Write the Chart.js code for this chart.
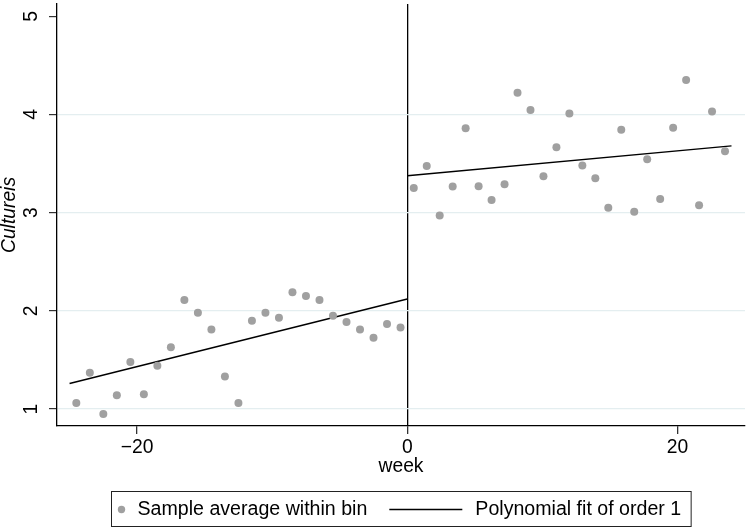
<!DOCTYPE html>
<html>
<head>
<meta charset="utf-8">
<script src="https://cdn.jsdelivr.net/npm/chart.js@4.4.1/dist/chart.umd.min.js"></script>
<style>
html, body { margin: 0; padding: 0; background: #fff; }
</style>
</head>
<body>
<canvas id="rdChart" width="750" height="528"></canvas>
<script>
// bin averages, before and after week 0
const weeksBefore = [-24.5, -23.5, -22.5, -21.5, -20.5, -19.5, -18.5, -17.5, -16.5, -15.5, -14.5, -13.5, -12.5,
    -11.5, -10.5, -9.5, -8.5, -7.5, -6.5, -5.5, -4.5, -3.5, -2.5, -1.5, -0.5];
const averagesBefore = [1.06, 1.37, 0.95, 1.14, 1.48, 1.15, 1.44, 1.63, 2.11, 1.98, 1.81, 1.33, 1.06,
    1.90, 1.98, 1.93, 2.19, 2.15, 2.11, 1.95, 1.885, 1.81, 1.725, 1.865, 1.83];

const weeksAfter = [0.48, 1.44, 2.4, 3.36, 4.32, 5.28, 6.24, 7.2, 8.16, 9.12, 10.08, 11.04, 12.0,
    12.96, 13.92, 14.88, 15.84, 16.8, 17.76, 18.72, 19.68, 20.64, 21.6, 22.56, 23.52];
const averagesAfter = [3.25, 3.475, 2.97, 3.265, 3.86, 3.27, 3.13, 3.29, 4.22, 4.045, 3.37, 3.665, 4.01,
    3.48, 3.35, 3.05, 3.845, 3.01, 3.545, 3.14, 3.865, 4.35, 3.075, 4.03, 3.625];

// linear fit end points
const fitBeforeWeeks = [-25, 0];
const fitBeforeValues = [1.26, 2.12];
const fitAfterWeeks = [0, 24];
const fitAfterValues = [3.375, 3.68];

const xTicks = [-20, 0, 20];
const yTicks = [1, 2, 3, 4, 5];
const legendLabels = ["Sample average within bin", "Polynomial fit of order 1"];

const fontFamily = '"Liberation Sans", Arial, Helvetica, sans-serif';
const dotColor = "#a0a0a0";
const gridColor = "#e4eef0";

function toPoints(xs, ys) {
    return xs.map((x, i) => ({ x: x, y: ys[i] }));
}

// stata style legend in a box under the plot
const boxedLegend = {
    id: "boxedLegend",
    afterDraw(chart) {
        const ctx = chart.ctx;
        const area = chart.chartArea;
        ctx.save();
        ctx.font = "19.6px " + fontFamily;
        const w1 = ctx.measureText(legendLabels[0]).width;
        const w2 = ctx.measureText(legendLabels[1]).width;
        const total = 26 + w1 + 22 + 73 + 13 + w2 + 10;
        const left = Math.round((area.left + area.right) / 2 - total / 2) + 0.5;
        const top = chart.height - 36.5;
        const mid = top + 18;

        ctx.strokeStyle = "#222";
        ctx.lineWidth = 1;
        ctx.strokeRect(left, top, total, 35);

        ctx.fillStyle = dotColor;
        ctx.beginPath();
        ctx.arc(left + 10, mid, 3.7, 0, Math.PI * 2);
        ctx.fill();

        ctx.fillStyle = "#000";
        ctx.textBaseline = "middle";
        ctx.textAlign = "left";
        ctx.fillText(legendLabels[0], left + 26, mid);

        const lineStart = left + 26 + w1 + 22;
        ctx.strokeStyle = "#000";
        ctx.lineWidth = 1.4;
        ctx.beginPath();
        ctx.moveTo(lineStart, mid);
        ctx.lineTo(lineStart + 73, mid);
        ctx.stroke();

        ctx.fillText(legendLabels[1], lineStart + 73 + 13, mid);
        ctx.restore();
    }
};

new Chart(document.getElementById("rdChart"), {
    type: "scatter",
    data: {
        datasets: [
            {
                label: legendLabels[0],
                data: toPoints(weeksBefore, averagesBefore),
                backgroundColor: dotColor,
                borderWidth: 0,
                pointRadius: 4
            },
            {
                label: legendLabels[0],
                data: toPoints(weeksAfter, averagesAfter),
                backgroundColor: dotColor,
                borderWidth: 0,
                pointRadius: 4
            },
            {
                label: legendLabels[1],
                type: "line",
                data: toPoints(fitBeforeWeeks, fitBeforeValues),
                borderColor: "#000",
                borderWidth: 1.5,
                pointRadius: 0,
                fill: false
            },
            {
                label: legendLabels[1],
                type: "line",
                data: toPoints(fitAfterWeeks, fitAfterValues),
                borderColor: "#000",
                borderWidth: 1.5,
                pointRadius: 0,
                fill: false
            }
        ]
    },
    options: {
        responsive: false,
        animation: false,
        layout: {
            padding: { top: 3, right: 5, bottom: 50, left: 0 }
        },
        plugins: {
            legend: { display: false },
            tooltip: { enabled: false }
        },
        scales: {
            x: {
                type: "linear",
                min: -25.93,
                max: 25.0,
                afterBuildTicks: scale => { scale.ticks = xTicks.map(v => ({ value: v })); },
                afterFit: scale => {
                    scale.height = 52;
                    scale.paddingLeft = 0;
                    scale.paddingRight = 0;
                },
                border: { display: true, color: "#000", width: 1.3 },
                grid: {
                    color: c => (c.tick && c.tick.value === 0 ? "#000" : "rgba(0,0,0,0)"),
                    lineWidth: 1.3,
                    tickColor: "#333",
                    tickLength: 8,
                    drawTicks: true
                },
                ticks: {
                    color: "#000",
                    padding: 2,
                    font: { family: fontFamily, size: 19.3 },
                    callback: v => (v < 0 ? "\u2212" + Math.abs(v) : String(v))
                },
                title: {
                    display: true,
                    text: "week",
                    color: "#000",
                    font: { family: fontFamily, size: 19.3 },
                    padding: 0
                }
            },
            y: {
                type: "linear",
                min: 0.827,
                max: 5.125,
                afterBuildTicks: scale => { scale.ticks = yTicks.map(v => ({ value: v })); },
                afterFit: scale => {
                    scale.width = 57;
                    scale.paddingTop = 0;
                    scale.paddingBottom = 0;
                },
                border: { display: true, color: "#000", width: 1.3 },
                grid: {
                    color: c => (c.tick && c.tick.value === 5 ? "rgba(0,0,0,0)" : gridColor),
                    lineWidth: 1.2,
                    tickColor: "#333",
                    tickLength: 8,
                    drawTicks: true
                },
                ticks: {
                    color: "#000",
                    minRotation: 90,
                    maxRotation: 90,
                    crossAlign: "center",
                    padding: 12,
                    font: { family: fontFamily, size: 19.3 }
                },
                title: {
                    display: true,
                    text: "Cultureis",
                    color: "#000",
                    font: { family: fontFamily, size: 19.3, style: "italic", lineHeight: 1.05 },
                    padding: 0
                }
            }
        }
    },
    plugins: [boxedLegend]
});
</script>
</body>
</html>
